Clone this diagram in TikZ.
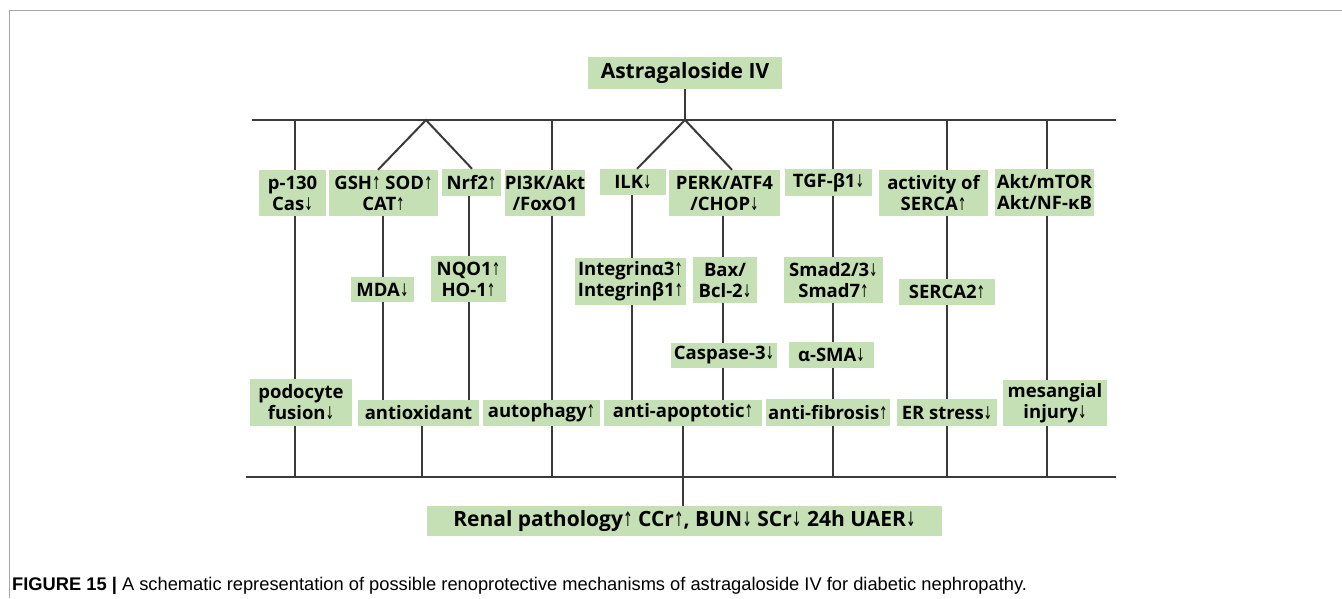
\documentclass[tikz,border=0pt]{standalone}
\usepackage{fontspec}
\setmainfont{Open Sans}
\newfontfamily\arrfont{DejaVu Sans}
\newfontfamily\capfont{Liberation Sans}
\newcommand\UA{\scalebox{0.55}[0.95]{\arrfont\mdseries ↑}}
\newcommand\DA{\scalebox{0.55}[0.95]{\arrfont\mdseries ↓}}
\definecolor{boxgreen}{HTML}{C5E0B4}
\definecolor{linegray}{HTML}{3A3A3A}
\definecolor{framegray}{HTML}{A6A6A6}
\begin{document}
\begin{tikzpicture}[x=1pt,y=-1pt,
  bx/.style={fill=boxgreen, inner sep=0pt, align=center, text=black,
    font=\bfseries\fontsize{18.5}{21}\selectfont},
  big/.style={font=\bfseries\fontsize{21}{24}\selectfont},
  ln/.style={draw=linegray, line width=2pt}]
\useasboundingbox (0,0) rectangle (1342,598);
\draw[framegray, line width=1pt] (9.5,598) -- (9.5,10.5) -- (1342,10.5);

% nodes
\node[bx,big,minimum width=194pt,minimum height=32pt] (ast) at (685,73) {Astragaloside IV};
\node[bx,minimum width=67pt,minimum height=46pt] (p130) at (292.5,193) {p-130\\Cas\DA};
\node[bx,minimum width=109pt,minimum height=46pt] (gsh) at (383.5,193) {GSH\UA{} SOD\UA\\CAT\UA};
\node[bx,minimum width=59pt,minimum height=27pt] (nrf) at (471.5,182.5) {Nrf2\UA};
\node[bx,minimum width=78pt,minimum height=46pt] (pi3k) at (545,193) {PI3K/Akt\\/FoxO1};
\node[bx,minimum width=66pt,minimum height=26pt] (ilk) at (633,182) {ILK\DA};
\node[bx,minimum width=111pt,minimum height=46pt] (perk) at (724.5,193) {PERK/ATF4\\/CHOP\DA};
\node[bx,minimum width=87pt,minimum height=27pt] (tgf) at (828.5,182.5) {TGF-β1\DA};
\node[bx,minimum width=109pt,minimum height=46pt] (serca) at (933.5,193) {activity of\\SERCA\UA};
\node[bx,minimum width=99pt,minimum height=47pt] (akt) at (1044.5,192.5) {Akt/mTOR\\Akt/NF-κB};

\node[bx,minimum width=63pt,minimum height=25pt] (mda) at (382.5,289.5) {MDA\DA};
\node[bx,minimum width=75pt,minimum height=46pt] (nqo) at (468.5,279) {NQO1\UA\\HO-1\UA};
\node[bx,minimum width=111pt,minimum height=47pt] (integ) at (630.5,281.5) {Integrinα3\UA\\Integrinβ1\UA};
\node[bx,minimum width=64pt,minimum height=46pt] (bax) at (725,280) {Bax/\\Bcl-2\DA};
\node[bx,minimum width=99pt,minimum height=46pt] (smad) at (833.5,280) {Smad2/3\DA\\Smad7\UA};
\node[bx,minimum width=96pt,minimum height=26pt] (serca2) at (947,292) {SERCA2\UA};

\node[bx,minimum width=106pt,minimum height=25pt] (casp) at (724,355.5) {Caspase-3\DA};
\node[bx,minimum width=85pt,minimum height=26pt] (sma) at (831.5,355) {α-SMA\DA};

\node[bx,minimum width=102pt,minimum height=47pt] (podo) at (301,402.5) {podocyte\\fusion\DA};
\node[bx,minimum width=121pt,minimum height=26pt] (antiox) at (418.5,413) {antioxidant};
\node[bx,minimum width=117pt,minimum height=26pt] (autoph) at (541.5,413) {autophagy\UA};
\node[bx,minimum width=158pt,minimum height=26pt] (antiap) at (683,413) {anti-apoptotic\UA};
\node[bx,minimum width=124pt,minimum height=27pt] (antifib) at (828,412.5) {anti-fibrosis\UA};
\node[bx,minimum width=100pt,minimum height=27pt] (er) at (947,412.5) {ER stress\DA};
\node[bx,minimum width=104pt,minimum height=46pt] (mes) at (1055,403) {mesangial\\injury\DA};

\node[bx,big,minimum width=515pt,minimum height=30pt] (renal) at (684.5,521) {Renal pathology\UA{} CCr\UA, BUN\DA{} SCr\DA{} 24h UAER\DA};

\node[anchor=base west, inner sep=0pt, font=\capfont\fontsize{18.3}{20}\selectfont] (cap) at (12,590)
  {\textbf{FIGURE 15 |} A schematic representation of possible renoprotective mechanisms of astragaloside IV for diabetic nephropathy.};

% buses and columns
\coordinate (tL) at (252,120); \coordinate (tR) at (1116,120);
\coordinate (bL) at (246,477); \coordinate (bR) at (1116,477);
\coordinate (v1) at (426,120); \coordinate (v2) at (685,120);
\coordinate (k1) at (295,0); \coordinate (k2) at (383,0); \coordinate (k3) at (469,0);
\coordinate (k4) at (422,0); \coordinate (k5) at (552,0); \coordinate (k6) at (632,0);
\coordinate (k7) at (723,0); \coordinate (k8) at (683,0); \coordinate (k9) at (833,0);
\coordinate (k10) at (947,0); \coordinate (k11) at (1047,0);

\draw[ln] (tL) -- (tR);
\draw[ln] (bL) -- (bR);
\draw[ln] (ast) -- (v2);
% column 1
\draw[ln] (k1 |- tL) -- (k1 |- p130.north);
\draw[ln] (k1 |- p130.south) -- (k1 |- podo.north);
\draw[ln] (k1 |- podo.south) -- (k1 |- bL);
% V1
\draw[ln] ([xshift=-5.5pt]gsh.north) -- (v1) -- ([xshift=0.5pt]nrf.north);
\draw[ln] (k2 |- gsh.south) -- (k2 |- mda.north);
\draw[ln] (k2 |- mda.south) -- (k2 |- antiox.north);
\draw[ln] (k3 |- nrf.south) -- (k3 |- nqo.north);
\draw[ln] (k3 |- nqo.south) -- (k3 |- antiox.north);
\draw[ln] (k4 |- antiox.south) -- (k4 |- bL);
% column PI3K
\draw[ln] (k5 |- tL) -- (k5 |- pi3k.north);
\draw[ln] (k5 |- pi3k.south) -- (k5 |- autoph.north);
\draw[ln] (k5 |- autoph.south) -- (k5 |- bL);
% V2
\draw[ln] ([xshift=4pt]ilk.north) -- (v2) -- ([xshift=7.5pt]perk.north);
\draw[ln] (k6 |- ilk.south) -- (k6 |- integ.north);
\draw[ln] (k6 |- integ.south) -- (k6 |- antiap.north);
\draw[ln] (k7 |- perk.south) -- (k7 |- bax.north);
\draw[ln] (k7 |- bax.south) -- (k7 |- casp.north);
\draw[ln] (k7 |- casp.south) -- (k7 |- antiap.north);
\draw[ln] (k8 |- antiap.south) -- (k8 |- bL);
\draw[ln] (k8 |- bL) -- (k8 |- renal.north);
% TGF column
\draw[ln] (k9 |- tL) -- (k9 |- tgf.north);
\draw[ln] (k9 |- tgf.south) -- (k9 |- smad.north);
\draw[ln] (k9 |- smad.south) -- (k9 |- sma.north);
\draw[ln] (k9 |- sma.south) -- (k9 |- antifib.north);
\draw[ln] (k9 |- antifib.south) -- (k9 |- bL);
% SERCA column
\draw[ln] (k10 |- tL) -- (k10 |- serca.north);
\draw[ln] (k10 |- serca.south) -- (k10 |- serca2.north);
\draw[ln] (k10 |- serca2.south) -- (k10 |- er.north);
\draw[ln] (k10 |- er.south) -- (k10 |- bL);
% Akt column
\draw[ln] (k11 |- tL) -- (k11 |- akt.north);
\draw[ln] (k11 |- akt.south) -- (k11 |- mes.north);
\draw[ln] (k11 |- mes.south) -- (k11 |- bL);
\end{tikzpicture}
\end{document}
